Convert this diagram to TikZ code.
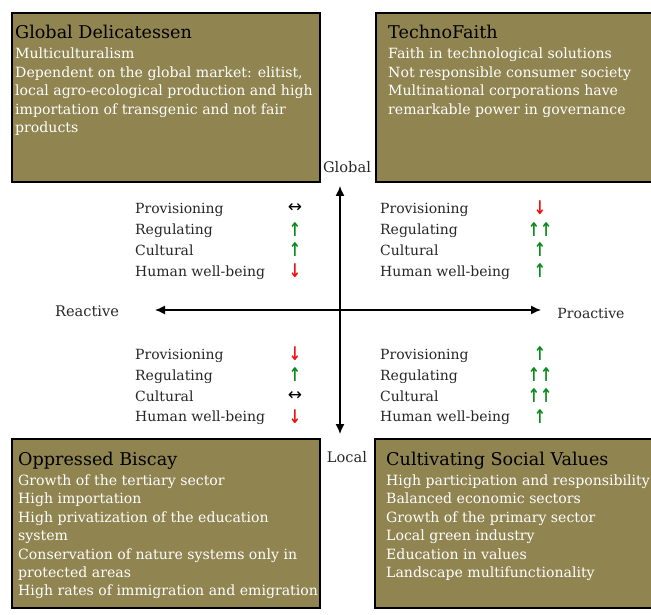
\documentclass[tikz,border=0pt]{standalone}
\usepackage{fontspec}
\usepackage{graphicx}
\setmainfont{DejaVu Serif}
\newfontfamily\arrowfont{DejaVu Sans}
\definecolor{boxfill}{HTML}{908451}
\definecolor{upgreen}{HTML}{0A8A1E}
\definecolor{downred}{HTML}{F01010}
\usetikzlibrary{arrows.meta}
\newcommand{\tallglyph}[1]{\scalebox{1}[1.3]{#1}}
\tikzset{
  scen/.style={draw=black,line width=1.6pt,fill=boxfill,anchor=north west,inner sep=0pt},
  headtxt/.style={anchor=base west,inner sep=0pt,font=\fontsize{17.6}{20}\selectfont,text=black},
  bodytxt/.style={anchor=north west,inner sep=0pt,align=left,text=white,font=\fontsize{14.1}{18.4}\selectfont},
  lab/.style={anchor=base west,inner sep=0pt,font=\fontsize{14}{16}\selectfont,text=black!85},
  axlab/.style={inner sep=0pt,font=\fontsize{14.6}{16}\selectfont,text=black!85},
  arr/.style={inner sep=0pt,font=\arrowfont\bfseries\fontsize{14.5}{16}\selectfont},
  goesup/.style={arr,text=upgreen},
  goesdown/.style={arr,text=downred},
  goesboth/.style={inner sep=0pt,font=\arrowfont\fontsize{17}{16}\selectfont,text=black},
  axisline/.style={line width=1.3pt,{Latex[length=10pt,width=9pt]}-{Latex[length=10pt,width=9pt]}}
}
\begin{document}
\begin{tikzpicture}[x=1pt,y=-1pt]
\useasboundingbox (0,0) rectangle (651,615);
\node[scen,minimum width=308pt,minimum height=169pt] (gd) at (11,12) {};
\node[scen,minimum width=278pt,minimum height=169pt] (tf) at (375,12) {};
\node[scen,minimum width=308pt,minimum height=169pt] (ob) at (11,438) {};
\node[scen,minimum width=278pt,minimum height=169pt] (cs) at (374,438) {};
\node[headtxt] (gdh) at (15,39) {Global Delicatessen};
\node[headtxt] (tfh) at (388,39) {TechnoFaith};
\node[headtxt] (obh) at (18,465) {Oppressed Biscay};
\node[headtxt] (csh) at (386,465) {Cultivating Social Values};
\node[bodytxt] (gdb) at (15,48) {Multiculturalism\\Dependent on the global market: elitist,\\local agro-ecological production and high\\importation of transgenic and not fair\\products};
\node[bodytxt] (tfb) at (388,48) {Faith in technological solutions\\Not responsible consumer society\\Multinational corporations have\\remarkable power in governance};
\node[bodytxt] (obb) at (18,474.5) {Growth of the tertiary sector\\High importation\\High privatization of the education\\system\\Conservation of nature systems only in\\protected areas\\High rates of immigration and emigration};
\node[bodytxt] (csb) at (386,474.5) {High participation and responsibility\\Balanced economic sectors\\Growth of the primary sector\\Local green industry\\Education in values\\Landscape multifunctionality};
\coordinate (axt) at (340,186);
\coordinate (axb) at (340,434);
\coordinate (axl) at (155,310);
\coordinate (axr) at (541,310);
\draw[axisline] (axt) -- (axb);
\draw[axisline] (axl) -- (axr);
\node[axlab] (glob) at (347,167) {Global};
\node[axlab] (loc) at (347,457) {Local};
\node[axlab] (rea) at (87,311) {Reactive};
\node[axlab,font=\fontsize{14}{16}\selectfont] (pro) at (591,313) {Proactive};
% top left
\node[lab] (a1) at (135,213) {Provisioning};
\node[lab] (a2) at (135,234) {Regulating};
\node[lab] (a3) at (135,255) {Cultural};
\node[lab] (a4) at (135,276) {Human well-being};
\node[goesboth] (a1m) at (295,208) {↔};
\node[goesup] (a2m) at (295,230) {\tallglyph{↑}};
\node[goesup] (a3m) at (295,250) {\tallglyph{↑}};
\node[goesdown] (a4m) at (295,271) {\tallglyph{↓}};
% top right
\node[lab] (b1) at (380,213) {Provisioning};
\node[lab] (b2) at (380,234) {Regulating};
\node[lab] (b3) at (380,255) {Cultural};
\node[lab] (b4) at (380,276) {Human well-being};
\node[goesdown] (b1m) at (540,208) {\tallglyph{↓}};
\node[goesup] (b2m) at (540,230) {\tallglyph{↑↑}};
\node[goesup] (b3m) at (540,250) {\tallglyph{↑}};
\node[goesup] (b4m) at (540,271) {\tallglyph{↑}};
% bottom left
\node[lab] (c1) at (135,359) {Provisioning};
\node[lab] (c2) at (135,380) {Regulating};
\node[lab] (c3) at (135,401) {Cultural};
\node[lab] (c4) at (135,421) {Human well-being};
\node[goesdown] (c1m) at (295,354) {\tallglyph{↓}};
\node[goesup] (c2m) at (295,375) {\tallglyph{↑}};
\node[goesboth] (c3m) at (295,396) {↔};
\node[goesdown] (c4m) at (295,417) {\tallglyph{↓}};
% bottom right
\node[lab] (d1) at (380,359) {Provisioning};
\node[lab] (d2) at (380,380) {Regulating};
\node[lab] (d3) at (380,401) {Cultural};
\node[lab] (d4) at (380,421) {Human well-being};
\node[goesup] (d1m) at (540,354) {\tallglyph{↑}};
\node[goesup] (d2m) at (540,375) {\tallglyph{↑↑}};
\node[goesup] (d3m) at (540,396) {\tallglyph{↑↑}};
\node[goesup] (d4m) at (540,417) {\tallglyph{↑}};
\end{tikzpicture}
\end{document}
